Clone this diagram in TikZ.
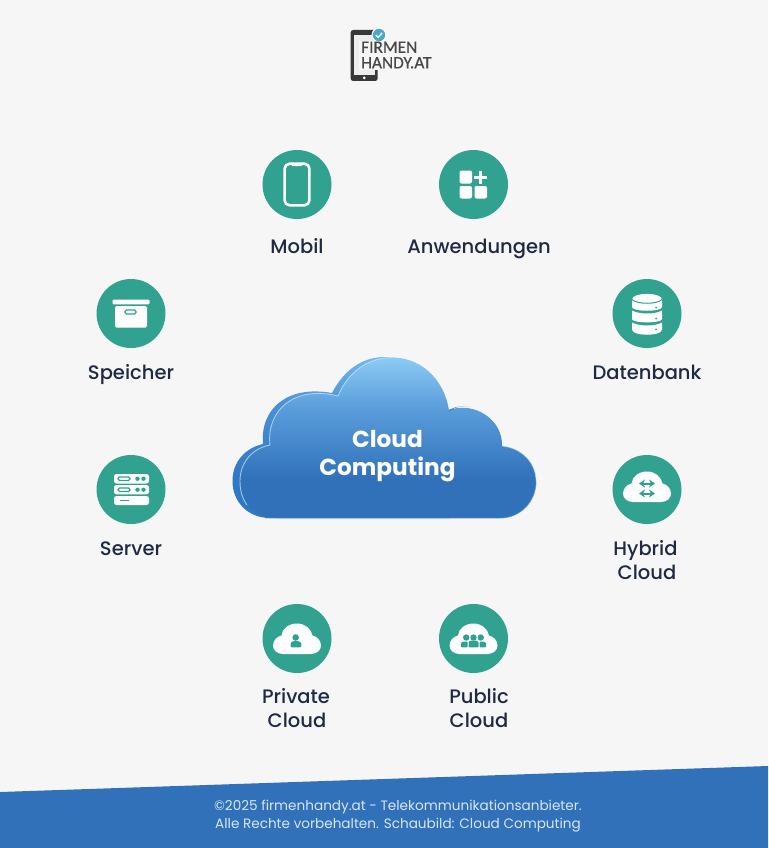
\documentclass[tikz,border=0pt]{standalone}
\usepackage{fontspec}
\setmainfont{Poppins}
\newfontfamily\pmed{Poppins Medium}
\newfontfamily\psemi{Poppins Bold}
\newfontfamily\plogo[FakeBold=0.5]{Carlito}
\usetikzlibrary{calc,arrows.meta}
\definecolor{bgc}{HTML}{F6F6F6}
\definecolor{teal}{HTML}{31A190}
\definecolor{ink}{HTML}{1E2A44}
\definecolor{band}{HTML}{3071BA}
\definecolor{cA}{HTML}{8CCBF5}
\definecolor{cB}{HTML}{5C9FDC}
\definecolor{cC}{HTML}{3071BA}
\definecolor{dA}{HTML}{74B8EC}
\definecolor{dB}{HTML}{4C90D4}
\definecolor{dC}{HTML}{2F78C4}
\definecolor{badge}{HTML}{4AA8D0}
\pgfdeclareverticalshading{cloudfront}{100bp}{color(0bp)=(cC); color(37bp)=(cC); color(60bp)=(cB); color(75bp)=(cA); color(100bp)=(cA)}
\pgfdeclareverticalshading{cloudback}{100bp}{color(0bp)=(dC); color(37bp)=(dC); color(60bp)=(dB); color(75bp)=(dA); color(100bp)=(dA)}
\tikzset{
  lbl/.style={font=\pmed\fontsize{19.5}{24}\selectfont,text=ink,align=center,inner sep=0pt},
  lblb/.style={lbl,anchor=base},
  disc/.style={circle,fill=teal,minimum size=69pt,inner sep=0pt,draw=none},
  foot/.style={font=\fontsize{13.6}{17}\selectfont,text=white!82!band,align=center,inner sep=0pt},
  wcloud/.pic={\fill[white] (-14,15.5) .. controls (-20,15.5) and (-24,11.5) .. (-24,7) .. controls (-24,2) and (-20,-2) .. (-15.5,-3) .. controls (-15,-10) and (-8,-15) .. (0,-15) .. controls (8,-15) and (14,-10) .. (15.5,-3) .. controls (20,-2) and (24,2) .. (24,7) .. controls (24,11.5) and (20,15.5) .. (14,15.5) -- cycle;},
}
\newcommand{\frontpath}{(277,518) .. controls (255,518) and (240,502) .. (240,481) .. controls (240,462) and (253,448) .. (270,445) .. controls (266,410) and (295,385) .. (338,396) .. controls (348,372) and (368,357.5) .. (392,357.5) .. controls (422,357.5) and (444,380) .. (449,410) .. controls (475,401) and (503,420) .. (502,446) .. controls (522,448) and (536,463) .. (536,481) .. controls (536,502) and (520,518) .. (500,518) -- cycle}
\begin{document}
\begin{tikzpicture}[x=1pt,y=-1pt]
\useasboundingbox (0,0) rectangle (768,848);
\fill[bgc] (0,0) rectangle (768,848);
% footer
\fill[band] (0,792) -- (768,766) -- (768,848) -- (0,848) -- cycle;
\node[foot] (f1) at (398,807.5) {©2025 firmenhandy.at - Telekommunikationsanbieter.};
\node[foot] (f2) at (398,825) {Alle Rechte vorbehalten. Schaubild: Cloud Computing};
% logo
\fill[black!78,rounded corners=2.5pt] (350.7,30) rectangle (377.7,81);
\fill[black!7] (353.5,35) rectangle (375,75);
\fill[white] (364.2,77.8) circle (1.5);
\fill[bgc] (359,41) rectangle (378,70);
\fill[white] (379,35) circle (7.5);
\fill[badge] (379,35) circle (6.2);
\draw[white,line width=1.3pt] (375.8,35) -- (378.2,37.4) -- (382.2,32.8);
\node[font=\plogo\fontsize{17.3}{15.5}\selectfont,text=black!72,anchor=north west,align=left,inner sep=0pt] (logo) at (361,41.5) {FIRMEN\\[0pt]HANDY.AT};
% cloud
\shade[shading=cloudback] (270,518) .. controls (248,518) and (232.5,502) .. (232.5,481) .. controls (232.5,462) and (245,448) .. (263,444) .. controls (260,408) and (288,385) .. (332,393) .. controls (344,370) and (362,357) .. (385,357) .. controls (410,357) and (430,375) .. (440,405) -- (450,518) -- cycle;
\shade[shading=cloudfront] \frontpath;
\shade[shading=cloudback] (449,410) .. controls (458,405) and (466,406) .. (470,407) .. controls (462,405) and (455,407) .. (449.5,411) -- cycle;
\draw[white!55!cA,line width=.9pt,opacity=.7] (247,505) .. controls (242,498) and (240,490) .. (240,481) .. controls (240,462) and (253,448) .. (270,445) .. controls (266,410) and (295,385) .. (338,396) .. controls (348,372) and (368,357.5) .. (392,357.5);
\draw[white!40!cA,line width=.7pt,opacity=.7] (502,446) .. controls (522,448) and (536,463) .. (536,481);
\draw[cyan!60!blue!80!white,line width=.9pt,opacity=.7] (265,518) -- (500,518) .. controls (520,518) and (536,502) .. (536,481);
\node[font=\psemi\fontsize{23.2}{28}\selectfont,text=white,align=center,inner sep=0pt] (cc) at (387.5,456.5) {Cloud\\Computing};
% discs
\node[disc] (mobil) at (297,184.5) {};
\node[disc] (anw) at (473.5,184.5) {};
\node[disc] (sp) at (131,313.5) {};
\node[disc] (db) at (647,313.5) {};
\node[disc] (srv) at (131,489.5) {};
\node[disc] (hyb) at (647,489.5) {};
\node[disc] (prv) at (297,638.5) {};
\node[disc] (pub) at (473.5,638.5) {};
% labels
\node[lblb] (lmobil) at (297,253.5) {Mobil};
\node[lblb] (lanw) at (479,253.5) {Anwendungen};
\node[lblb] (lsp) at (131,379) {Speicher};
\node[lblb] (ldb) at (647,379) {Datenbank};
\node[lblb] (lsrv) at (131,555) {Server};
\node[lbl] (lhyb) at (645.5,560) {Hybrid\\\hspace*{3pt}Cloud};
\node[lbl] (lprv) at (296,708) {Private\\\hspace*{2pt}Cloud};
\node[lbl] (lpub) at (479,708) {Public\\Cloud};
% icon phone
\begin{scope}[shift={(mobil.center)}]
\draw[white,line width=2.6pt,rounded corners=5pt] (-12.4,-20.8) rectangle (12.4,20.8);
\fill[white] (-6,-21.5) -- (6,-21.5) -- (4.5,-18.3) -- (-4.5,-18.3) -- cycle;
\end{scope}
% icon apps
\begin{scope}[shift={(anw.center)}]
\fill[white,rounded corners=2pt] (-14,-14) rectangle (-1.5,-1);
\fill[white,rounded corners=2pt] (-14,1.5) rectangle (-1.5,14);
\fill[white,rounded corners=2pt] (1,1.5) rectangle (13.5,14);
\draw[white,line width=2.7pt] (7.2,-14) -- (7.2,-0.5) (0.6,-7.2) -- (13.8,-7.2);
\end{scope}
% icon box
\begin{scope}[shift={(sp.center)}]
\fill[white,rounded corners=1pt] (-18.5,-14) rectangle (18.5,-9.2);
\fill[white,rounded corners=1.5pt] (-16,-7.5) rectangle (16,14);
\draw[teal,line width=1.2pt,rounded corners=1.5pt] (-6,-3.5) rectangle (5,0.5);
\end{scope}
% icon server
\begin{scope}[shift={(srv.center)}]
\fill[white,rounded corners=2.5pt] (-17,-15.5) rectangle (18,-6);
\fill[white,rounded corners=2.5pt] (-17,-4.5) rectangle (18,4.8);
\fill[white,rounded corners=2.5pt] (-17,6.5) rectangle (18,15.5);
\foreach \yy in {-10.8,0.2}{
  \draw[teal,line width=1.2pt,rounded corners=1.5pt] (-13,\yy-1.8) rectangle (-1,\yy+1.8);
  \fill[teal] (6.5,\yy) circle (2.2) (12.5,\yy) circle (2.2);
}
\draw[teal,line width=1.4pt] (-11,11) -- (-2,11);
\end{scope}
% icon database
\begin{scope}[shift={(db.center)}]
\fill[white] (-15,-14) .. controls (-15,-21.5) and (15,-21.5) .. (15,-14) -- (15,-6.5) .. controls (15,-1.5) and (-15,-1.5) .. (-15,-6.5) -- cycle;
\fill[white] (-15,-3) .. controls (-8,1) and (8,1) .. (15,-3) -- (15,5.5) .. controls (15,10) and (-15,10) .. (-15,5.5) -- cycle;
\fill[white] (-15,9) .. controls (-8,13) and (8,13) .. (15,9) -- (15,16) .. controls (15,23) and (-15,23) .. (-15,16) -- cycle;
\draw[teal,line width=1pt] (-15,-14) .. controls (-10,-9) and (10,-9) .. (15,-14);
\fill[teal] (9,-6) circle (1) (9,5) circle (1) (9,16) circle (1);
\end{scope}
% icon hybrid
\begin{scope}[shift={(hyb.center)}]
\pic at (0,-3) {wcloud};
\draw[teal,line width=2pt,{Stealth[length=6pt,width=8pt]}-{Stealth[length=6pt,width=8pt]}] (-8,-6) -- (8,-6);
\draw[teal,line width=2pt,{Stealth[length=6pt,width=8pt]}-{Stealth[length=6pt,width=8pt]}] (-8,4) -- (8,4);
\end{scope}
% icon private
\begin{scope}[shift={(prv.center)}]
\pic at (0,0) {wcloud};
\fill[teal] (-1.3,-1) circle (3.3);
\fill[teal,rounded corners=1pt] (-6.3,8.8) -- (-6.3,4) -- (-3.5,2.5) -- (1,2.5) -- (4.3,4) -- (4.3,8.8) -- cycle;
\end{scope}
% icon public
\begin{scope}[shift={(pub.center)}]
\pic at (0,0) {wcloud};
\foreach \xx in {-7.3,0,7.3}{
  \fill[teal] (\xx,-1) circle (3.2);
}
\fill[teal,rounded corners=.8pt] (-12.7,8.8) -- (-12.7,4.5) -- (-10,3) -- (-6,3) -- (-6,8.8) -- cycle;
\fill[teal,rounded corners=.8pt] (-5,8.8) -- (-5,3.5) -- (-3,2) -- (3,2) -- (5,3.5) -- (5,8.8) -- cycle;
\fill[teal,rounded corners=.8pt] (12.7,8.8) -- (12.7,4.5) -- (10,3) -- (6,3) -- (6,8.8) -- cycle;
\end{scope}
\end{tikzpicture}
\end{document}
